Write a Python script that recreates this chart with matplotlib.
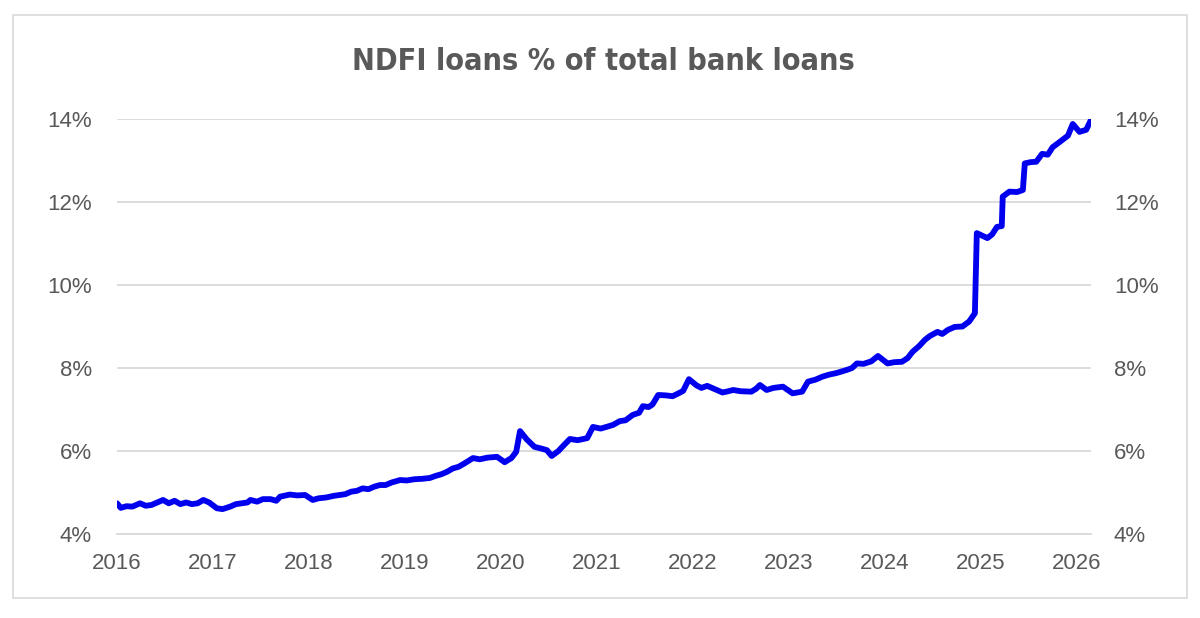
import matplotlib
matplotlib.use("Agg")
import matplotlib.pyplot as plt
from matplotlib.patches import Rectangle
from matplotlib.ticker import FuncFormatter

# decimal year, NDFI share of total bank loans (%)
YEARS = [2016.00, 2016.04, 2016.10, 2016.16, 2016.24, 2016.30, 2016.36, 2016.44, 2016.48, 2016.54,
         2016.60, 2016.66, 2016.72, 2016.78, 2016.84, 2016.90, 2016.96, 2017.04, 2017.10, 2017.18,
         2017.24, 2017.30, 2017.36, 2017.39, 2017.46, 2017.52, 2017.60, 2017.66, 2017.70, 2017.80,
         2017.88, 2017.96, 2018.04, 2018.10, 2018.18, 2018.26, 2018.32, 2018.38, 2018.44, 2018.50,
         2018.56, 2018.62, 2018.68, 2018.74, 2018.80, 2018.86, 2018.95, 2019.02, 2019.10, 2019.18,
         2019.26, 2019.32, 2019.38, 2019.44, 2019.50, 2019.56, 2019.62, 2019.71, 2019.78, 2019.86,
         2019.96, 2020.04, 2020.11, 2020.16, 2020.20, 2020.27, 2020.35, 2020.42, 2020.48, 2020.53,
         2020.60, 2020.64, 2020.72, 2020.80, 2020.90, 2020.96, 2021.04, 2021.10, 2021.17, 2021.24,
         2021.30, 2021.375, 2021.44, 2021.48, 2021.54, 2021.58, 2021.64, 2021.72, 2021.79, 2021.86,
         2021.90, 2021.96, 2022.04, 2022.09, 2022.15, 2022.22, 2022.31, 2022.37, 2022.42, 2022.50,
         2022.61, 2022.66, 2022.70, 2022.77, 2022.84, 2022.94, 2023.04, 2023.14, 2023.20, 2023.28,
         2023.35, 2023.42, 2023.50, 2023.60, 2023.66, 2023.71, 2023.78, 2023.86, 2023.93, 2024.03,
         2024.10, 2024.18, 2024.24, 2024.29, 2024.36, 2024.42, 2024.47, 2024.55, 2024.60, 2024.66,
         2024.73, 2024.81, 2024.88, 2024.94, 2024.96, 2025.07, 2025.12, 2025.17, 2025.22, 2025.23,
         2025.30, 2025.38, 2025.44, 2025.46, 2025.52, 2025.58, 2025.64, 2025.70, 2025.75, 2025.82,
         2025.91, 2025.96, 2026.03, 2026.10, 2026.15]
SHARE = [4.74, 4.63, 4.67, 4.66, 4.74, 4.68, 4.70, 4.78, 4.82, 4.74,
         4.80, 4.72, 4.76, 4.72, 4.74, 4.82, 4.76, 4.62, 4.60, 4.66,
         4.72, 4.74, 4.76, 4.82, 4.78, 4.84, 4.84, 4.80, 4.90, 4.95,
         4.93, 4.94, 4.82, 4.86, 4.88, 4.92, 4.94, 4.96, 5.02, 5.04,
         5.10, 5.08, 5.14, 5.18, 5.18, 5.24, 5.30, 5.29, 5.32, 5.33,
         5.35, 5.40, 5.44, 5.50, 5.58, 5.62, 5.70, 5.83, 5.80, 5.84,
         5.86, 5.73, 5.83, 5.98, 6.48, 6.28, 6.10, 6.06, 6.02, 5.88,
         6.00, 6.10, 6.29, 6.26, 6.31, 6.58, 6.54, 6.58, 6.63, 6.72,
         6.74, 6.87, 6.92, 7.08, 7.06, 7.12, 7.35, 7.34, 7.32, 7.40,
         7.45, 7.73, 7.58, 7.52, 7.57, 7.50, 7.41, 7.44, 7.47, 7.44,
         7.43, 7.50, 7.59, 7.47, 7.52, 7.55, 7.39, 7.43, 7.67, 7.72,
         7.79, 7.84, 7.88, 7.95, 8.00, 8.11, 8.10, 8.16, 8.29, 8.11,
         8.14, 8.15, 8.24, 8.39, 8.53, 8.68, 8.77, 8.87, 8.82, 8.92,
         8.99, 9.00, 9.12, 9.32, 11.25, 11.13, 11.22, 11.40, 11.42, 12.13,
         12.25, 12.24, 12.29, 12.93, 12.96, 12.97, 13.16, 13.14, 13.32, 13.44,
         13.60, 13.88, 13.69, 13.74, 13.98]

YEAR_TICKS = list(range(2016, 2027))
PCT_TICKS = [4, 6, 8, 10, 12, 14]

TEXT = "#595959"
GRID = "#d9d9d9"

fig = plt.figure(figsize=(12, 6.18), dpi=100)
fig.patches.append(Rectangle((13 / 1200, 1 - 598 / 618), 1174 / 1200, 583 / 618,
                             transform=fig.transFigure, fill=False, edgecolor=GRID, lw=1.2))

ax = fig.add_axes([117 / 1200, 1 - 534 / 618, 974 / 1200, 415 / 618])
ax.plot(YEARS, SHARE, color="#0000ee", lw=4.2, solid_joinstyle="round",
        solid_capstyle="round", zorder=3)

ax.set_xlim(2016, 2026.15)
ax.set_ylim(4, 14)
ax.set_xticks(YEAR_TICKS)
ax.set_yticks(PCT_TICKS)
fmt = FuncFormatter(lambda v, p: "%d%%" % v)
ax.yaxis.set_major_formatter(fmt)
ax.grid(axis="y", color=GRID, lw=1.3)
ax.set_axisbelow(True)
for s in ["top", "right", "left"]:
    ax.spines[s].set_visible(False)
ax.spines["bottom"].set_color(GRID)
ax.spines["bottom"].set_linewidth(1.3)
ax.tick_params(length=0, labelsize=16, labelcolor=TEXT)
ax.tick_params(axis="y", pad=18)
ax.tick_params(axis="x", pad=14)
for lab in ax.get_xticklabels() + ax.get_yticklabels():
    lab.set_family("Liberation Sans")

ax2 = ax.twinx()
ax2.set_ylim(4, 14)
ax2.set_yticks(PCT_TICKS)
ax2.yaxis.set_major_formatter(fmt)
for s in ax2.spines.values():
    s.set_visible(False)
ax2.tick_params(length=0, labelsize=16, labelcolor=TEXT, pad=16.5)
for lab in ax2.get_yticklabels():
    lab.set_family("Liberation Sans")

fig.text(0.503, 1 - 61 / 618, "NDFI loans % of total bank loans", ha="center", va="center",
         fontsize=22, fontweight="bold", fontstretch="condensed", color=TEXT,
         family=["DejaVu Sans", "Liberation Sans"])

fig.savefig("out.png", dpi=100)
